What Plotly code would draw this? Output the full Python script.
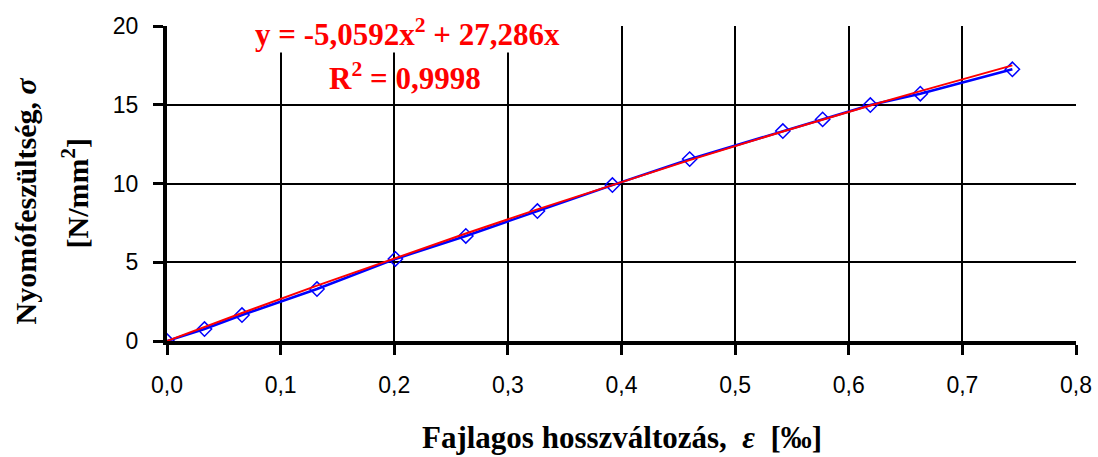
import plotly.graph_objects as go

# Data
strain = [0.0, 0.033, 0.066, 0.132, 0.201, 0.263, 0.326, 0.392, 0.460, 0.542, 0.577, 0.619, 0.663, 0.744]
stress = [0.0, 0.76, 1.65, 3.30, 5.21, 6.67, 8.25, 9.90, 11.55, 13.33, 14.07, 14.98, 15.70, 17.25]

# Trendline coefficients as displayed on the chart
coef_a = -5.0592
coef_b = 27.286
trend = [coef_a * x * x + coef_b * x for x in strain]

x_ticks = [0.0, 0.1, 0.2, 0.3, 0.4, 0.5, 0.6, 0.7, 0.8]
x_ticktext = ["0,0", "0,1", "0,2", "0,3", "0,4", "0,5", "0,6", "0,7", "0,8"]
y_ticks = [0, 5, 10, 15, 20]

serif = "Liberation Serif"
sans = "Liberation Sans"

fig = go.Figure()
fig.add_trace(go.Scatter(
    x=strain, y=stress, mode="lines+markers",
    line=dict(color="#0000ff", width=2.5),
    marker=dict(symbol="diamond-open", size=11, color="#0000ff", line=dict(width=1.5, color="#0000ff")),
    showlegend=False,
))
fig.add_trace(go.Scatter(
    x=strain, y=trend, mode="lines",
    line=dict(color="#ff0000", width=2),
    showlegend=False,
))

fig.update_layout(
    width=1098, height=457,
    margin=dict(l=167, r=22, t=26, b=116, autoexpand=False),
    paper_bgcolor="white", plot_bgcolor="white",
    separators=",.",
)
fig.update_xaxes(
    range=[0, 0.8], tickvals=x_ticks, ticktext=x_ticktext,
    showgrid=True, gridcolor="black", gridwidth=2,
    showline=True, linecolor="black", linewidth=4,
    ticks="outside", ticklen=10, tickwidth=3, tickcolor="black",
    ticklabelstandoff=10,
    tickfont=dict(family=sans, size=23, color="black"),
    zeroline=False, automargin=False,
)
fig.update_yaxes(
    range=[0, 20], tickvals=y_ticks,
    showgrid=True, gridcolor="black", gridwidth=2,
    showline=True, linecolor="black", linewidth=4,
    ticks="outside", ticklen=10, tickwidth=3, tickcolor="black",
    ticklabelstandoff=10,
    tickfont=dict(family=sans, size=23, color="black"),
    zeroline=False, automargin=False,
)

fig.add_annotation(
    text="<b>y = -5,0592x<sup>2</sup> + 27,286x</b>",
    xref="paper", yref="paper", x=0.265, y=1, yshift=-6,
    xanchor="center", yanchor="middle", showarrow=False,
    font=dict(family=serif, size=31, color="#ff0000"),
    bgcolor="white", borderpad=0,
)
fig.add_annotation(
    text="<b>R<sup>2</sup> = 0,9998</b>",
    xref="paper", yref="paper", x=0.262, y=1, yshift=-50,
    xanchor="center", yanchor="middle", showarrow=False,
    font=dict(family=serif, size=31, color="#ff0000"),
)
fig.add_annotation(
    text="<b>Fajlagos hosszváltozás,  <i>ε</i>  [‰]</b>",
    xref="paper", yref="paper", x=0.5, y=0, yshift=-96,
    xanchor="center", yanchor="middle", showarrow=False,
    font=dict(family=serif, size=31, color="black"),
)
fig.add_annotation(
    text="<b>Nyomófeszültség, <i>σ</i></b>",
    xref="paper", yref="paper", x=0, y=0.5, xshift=-142, yshift=-18,
    xanchor="center", yanchor="middle", showarrow=False, textangle=-90,
    font=dict(family=serif, size=30, color="black"),
)
fig.add_annotation(
    text="<b>[N/mm<sup>2</sup>]</b>",
    xref="paper", yref="paper", x=0, y=0.5, xshift=-92, yshift=-10,
    xanchor="center", yanchor="middle", showarrow=False, textangle=-90,
    font=dict(family=serif, size=30, color="black"),
)

fig.write_html("out.html", config={"displayModeBar": False},
               post_script="document.body.style.margin='0';")
